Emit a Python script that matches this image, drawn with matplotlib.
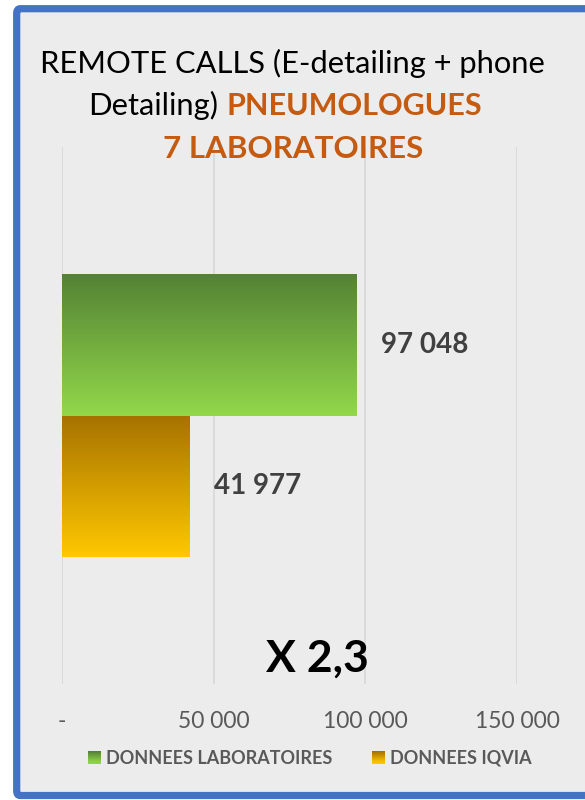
import matplotlib
matplotlib.use("Agg")
import matplotlib.pyplot as plt
import numpy as np
from matplotlib.patches import FancyBboxPatch, Patch, Rectangle
from matplotlib.legend_handler import HandlerBase
from matplotlib.ticker import FuncFormatter

# data
series = ["DONNEES LABORATOIRES", "DONNEES IQVIA"]
values = [97048, 41977]
value_labels = ["97 048", "41 977"]
ticks = [0, 50000, 100000, 150000]
tick_labels = ["-", "50 000", "100 000", "150 000"]
ratio_label = "X 2,3"

top_colors = ["#548235", "#a67200"]
bottom_colors = ["#92d84a", "#ffc800"]

FONT = "Lato"
ORANGE = "#c55a11"

W, H = 585, 800
fig = plt.figure(figsize=(W / 100, H / 100), dpi=100)
fig.patch.set_facecolor("white")


def blend(i, t):
    c1 = np.array(matplotlib.colors.to_rgb(top_colors[i]))
    c2 = np.array(matplotlib.colors.to_rgb(bottom_colors[i]))
    return c1 * (1 - t) + c2 * t


class GradHandler(HandlerBase):
    def create_artists(self, legend, orig, xd, yd, width, height, fontsize, trans):
        i = series.index(orig.get_label())
        n = 12
        out = []
        for k in range(n):
            # k=0 is the top strip
            r = Rectangle((xd * -1, -yd + height * (n - k - 1) / n), width, height / n + 0.3,
                          facecolor=blend(i, k / (n - 1)), edgecolor="none", transform=trans)
            out.append(r)
        return out


# blue frame
frame = FancyBboxPatch((16.7 / W, 4.5 / H), (620 - 16.7) / W, (791.3 - 4.5) / H,
                       boxstyle="round,pad=0,rounding_size=0.006",
                       transform=fig.transFigure, facecolor="#ececec",
                       edgecolor="#4472c4", linewidth=5.2, zorder=-10)
fig.patches.append(frame)

ax = fig.add_axes([61.7 / W, 1 - 684.3 / H, (517.3 - 61.7) / W, (684.3 - 146.7) / H])
ax.set_facecolor("none")
for s in ax.spines.values():
    s.set_visible(False)

h = 0.2625
ypos = [h / 2, -h / 2]
bars = ax.barh(ypos, values, height=h, color="none", edgecolor="none")
for i, b in enumerate(bars):
    x0, y0 = b.get_x(), b.get_y()
    w, hh = b.get_width(), b.get_height()
    t = np.linspace(0, 1, 256)[:, None]
    grad = blend(i, t)[:, None, :]
    im = ax.imshow(grad, extent=(x0, x0 + w, y0, y0 + hh), origin="upper",
                   aspect="auto", zorder=2, interpolation="bilinear")
    im.set_clip_path(b)
    ax.annotate(value_labels[i], (values[i], ypos[i]), xytext=(17.5, 0),
                textcoords="offset points", ha="left", va="center",
                fontsize=20, fontweight="bold", color="#404040", family=FONT)

ax.set_xlim(0, 150000)
ax.set_ylim(-0.5, 0.5)
ax.set_xticks(ticks)
ax.xaxis.set_major_formatter(FuncFormatter(lambda v, p: tick_labels[ticks.index(int(v))] if int(v) in ticks else ""))
ax.set_yticks([])
ax.tick_params(axis="x", length=0, pad=19, labelsize=16.5, labelcolor="#595959")
for lab in ax.get_xticklabels():
    lab.set_family(FONT)
ax.grid(axis="x", color="#d9d9d9", linewidth=1.3, zorder=0)
ax.set_axisbelow(True)

ax.text((317 - 61.7) / (517.3 - 61.7), 0.0235, ratio_label, transform=ax.transAxes,
        ha="center", va="baseline", fontsize=32, fontweight="bold",
        color="black", family=FONT)

# title
cx = 292 / W
fig.text(cx, 1 - 73.3 / H, "REMOTE CALLS (E-detailing + phone", ha="center",
         va="baseline", fontsize=22.2, color="black", family=FONT)
t1 = fig.text(0, 1 - 115 / H, "Detailing)", ha="left", va="baseline",
              fontsize=22.2, color="black", family=FONT)
t2 = fig.text(0, 1 - 115 / H, "PNEUMOLOGUES", ha="left", va="baseline",
              fontsize=22, fontweight="bold", color=ORANGE, family=FONT)
fig.text(293.5 / W, 1 - 158.3 / H, "7 LABORATOIRES", ha="center", va="baseline",
         fontsize=22.5, fontweight="bold", color=ORANGE, family=FONT)

r = fig.canvas.get_renderer()
w1 = t1.get_window_extent(r).width
w2 = t2.get_window_extent(r).width
gap = 9
start = 285 - (w1 + gap + w2) / 2
t1.set_x(start / W)
t2.set_x((start + w1 + gap) / W)

handles = [Patch(facecolor=top_colors[i], label=series[i]) for i in range(2)]
fig.legend(handles=handles, loc="center", bbox_to_anchor=(310 / W, 1 - 758.5 / H),
           ncol=2, frameon=False, handlelength=0.7, handleheight=0.7,
           handletextpad=0.3, columnspacing=2.2,
           handler_map={Patch: GradHandler()},
           prop={"family": FONT, "weight": "bold", "size": 13},
           labelcolor="#595959")

fig.savefig("out.png", dpi=100)
